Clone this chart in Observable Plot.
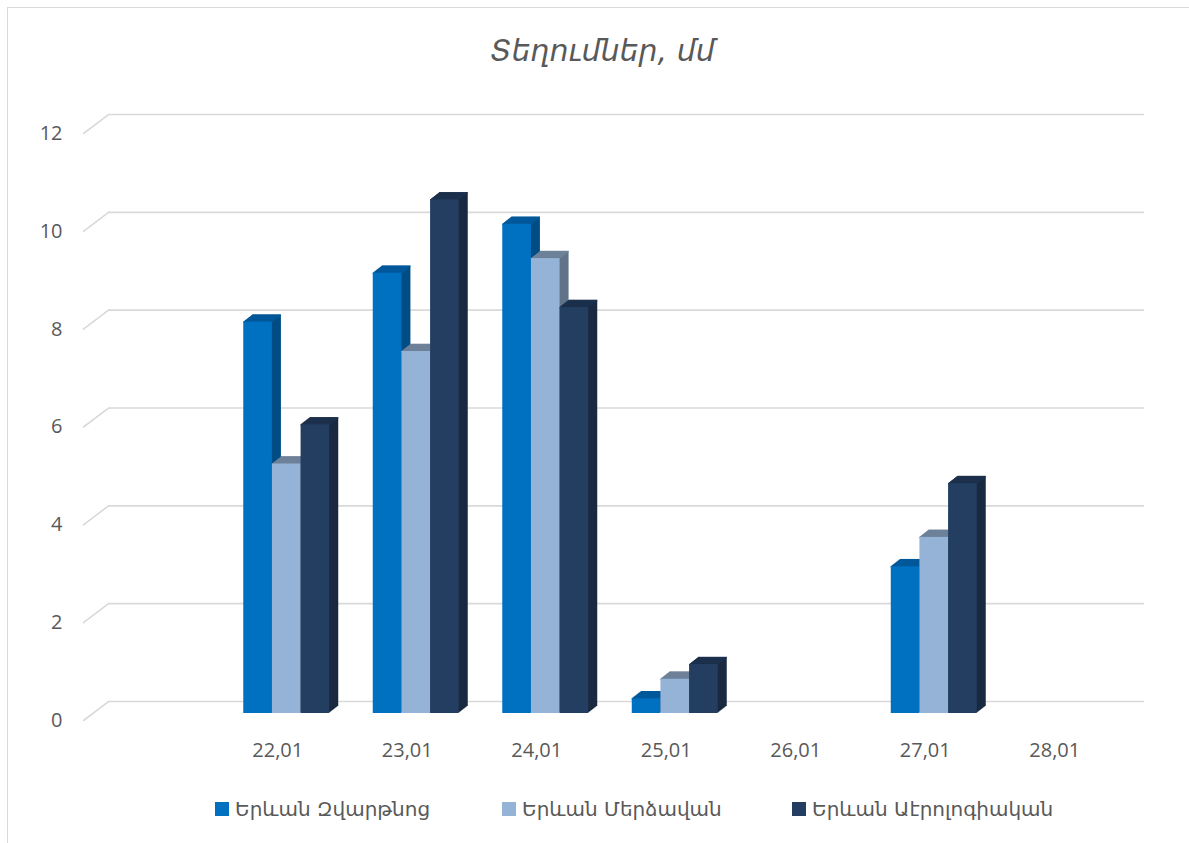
<!DOCTYPE html>
<html>
<head>
<meta charset="utf-8">
<script src="https://cdn.jsdelivr.net/npm/d3@7"></script>
<script src="https://cdn.jsdelivr.net/npm/@observablehq/plot@0.6"></script>
<style>
  html, body { margin: 0; padding: 0; background: #fff; }
  body { width: 1189px; height: 843px; overflow: hidden; position: relative; font-family: "Open Sans", "DejaVu Sans", sans-serif; }
  #frame { position: absolute; left: 7px; top: 7px; width: 1300px; height: 1000px; border: 1.5px solid #d9d9d9; box-sizing: border-box; pointer-events: none; }
  #title { position: relative; height: 78px; padding-top: 12px; line-height: 78px; width: 1189px; text-align: center; padding-left: 0; box-sizing: content-box;
           font-family: "DejaVu Sans", sans-serif; font-style: italic; font-size: 30px; color: #595959; }
  #title span { position: relative; left: 8px; }
  #chart { height: 700px; }
  #chart svg { display: block; }
  #legend { position: relative; height: 53px; width: 1189px; }
  .item { position: absolute; top: 7px; display: flex; align-items: center; font-family: "DejaVu Sans", sans-serif; font-size: 20px; color: #595959; white-space: nowrap; }
  .sw { width: 14px; height: 14px; margin-right: 6px; display: inline-block; }
</style>
</head>
<body>
<div id="frame"></div>
<div id="title"><span>Տեղումներ, մմ</span></div>
<div id="chart"></div>
<div id="legend"></div>
<script>
// ---- data ----
const categories = ["22,01", "23,01", "24,01", "25,01", "26,01", "27,01", "28,01"];
const seriesNames = ["Երևան Զվարթնոց", "Երևան Մերձավան", "Երևան Աէրոլոգիական"];
const zvartnots = [8, 9, 10, 0.3, 0, 3, 0];
const merdzavan = [5.1, 7.4, 9.3, 0.7, 0, 3.6, 0];
const aerolog = [5.9, 10.5, 8.3, 1.0, 0, 4.7, 0];
const yTicks = [0, 2, 4, 6, 8, 10, 12];

// ---- style ----
const frontColors = ["#0070c0", "#95b3d7", "#243e62"];
const topColors = ["#00589a", "#6e8199", "#1c304c"];
const sideColors = ["#004c85", "#617389", "#19293f"];
const gridColor = "#d9d9d9";
const textColor = "#595959";

const seriesValues = [zvartnots, merdzavan, aerolog];
const rows = [];
categories.forEach((c, i) => seriesValues.forEach((vals, s) => {
  rows.push({cat: c, i, s, v: vals[i]});
}));

const groupFrac = 0.664;
const bw = groupFrac / 3;
const X1 = d => d.i + 1.5 + (d.s - 1.5) * bw;
const X2 = d => d.i + 1.5 + (d.s - 0.5) * bw;

const baseDx = 9, baseDy = -7, depthSteps = 9, depthDy = 7 / 9;

const marks = [];
// back-plane gridlines
marks.push(Plot.ruleY(yTicks, {y: d => d, dx: 25, dy: -19, stroke: gridColor, strokeWidth: 1.6}));
// diagonal depth ticks at the left wall
marks.push(Plot.vector(yTicks, {
  x: () => 0, y: d => d, length: 31.4, rotate: 52.8, anchor: "start",
  stroke: gridColor, strokeWidth: 1.6,
  shape: {draw(ctx, l) { ctx.moveTo(0, 0); ctx.lineTo(0, -l); }}
}));

for (let s = 0; s < 3; s++) {
  const data = rows.filter(d => d.s === s && d.v > 0);
  // side face (extrusion sweep)
  for (let k = 1; k <= depthSteps; k++) {
    marks.push(Plot.rect(data, {x1: X1, x2: X2, y1: () => 0, y2: "v", fill: sideColors[s],
      dx: baseDx + k, dy: baseDy - k * depthDy}));
  }
  // top face
  for (let k = 0; k <= depthSteps; k++) {
    marks.push(Plot.ruleY(data, {x1: X1, x2: X2, y: "v", stroke: topColors[s], strokeWidth: 1.6,
      dx: baseDx + k, dy: baseDy - k * depthDy}));
  }
  // front face
  marks.push(Plot.rect(data, {x1: X1, x2: X2, y1: () => 0, y2: "v", fill: frontColors[s],
    dx: baseDx, dy: baseDy}));
}

marks.push(Plot.axisY({ticks: yTicks, tickSize: 0, tickPadding: 21, fontSize: 20, label: null, tickFormat: d => String(d)}));
marks.push(Plot.axisX({ticks: categories.map((c, i) => i + 1.5), tickFormat: v => categories[Math.round(v - 1.5)],
  tickSize: 0, tickPadding: 22, fontSize: 20, label: null}));

const chart = Plot.plot({
  width: 1189,
  height: 700,
  marginLeft: 83,
  marginRight: 70,
  marginTop: 43,
  marginBottom: 70,
  x: {type: "linear", domain: [0, 8]},
  y: {domain: [0, 12]},
  style: {color: textColor, fontFamily: "'Open Sans', 'DejaVu Sans', sans-serif", fontSize: "20px", background: "transparent"},
  marks
});
document.getElementById("chart").appendChild(chart);

// legend
const legendX = [215, 502, 792];
const legend = document.getElementById("legend");
seriesNames.forEach((name, s) => {
  const it = document.createElement("div");
  it.className = "item";
  it.style.left = legendX[s] + "px";
  const sw = document.createElement("span");
  sw.className = "sw";
  sw.style.background = frontColors[s];
  const t = document.createElement("span");
  t.textContent = name;
  it.appendChild(sw); it.appendChild(t);
  legend.appendChild(it);
});
</script>
</body>
</html>
